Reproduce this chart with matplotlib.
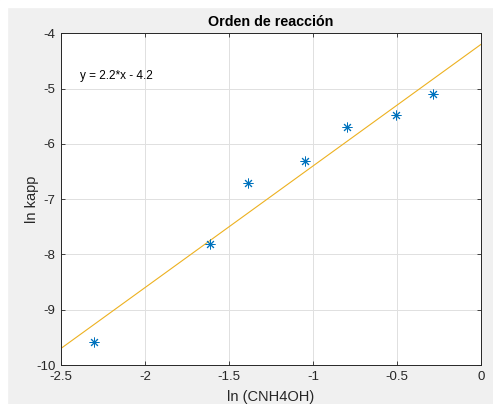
import numpy as np
import matplotlib.pyplot as plt
from matplotlib.patches import Rectangle

# datos experimentales
ln_c = [-2.303, -1.613, -1.386, -1.050, -0.800, -0.507, -0.285]
ln_kapp = [-9.58, -7.815, -6.71, -6.31, -5.69, -5.48, -5.10]
slope = 2.2
intercept = -4.2
fit_label = 'y = 2.2*x - 4.2'

plt.rcParams['font.family'] = ['Liberation Sans', 'DejaVu Sans']
plt.rcParams['axes.unicode_minus'] = False
txt_c = '#262626'

fig = plt.figure(figsize=(4.93, 4.04), dpi=100, facecolor='#f0f0f0')
# margen blanco de la captura
fig.patches.append(Rectangle((0, 0.982), 1, 0.018, transform=fig.transFigure,
                             color='white', zorder=-1))
fig.patches.append(Rectangle((0, 0), 0.014, 1, transform=fig.transFigure,
                             color='white', zorder=-1))

ax = fig.add_axes([0.1237, 0.0965, 0.852, 0.8211])
ax.set_facecolor('white')

x_fit = np.array([-2.5, 0.0])
ax.plot(x_fit, slope * x_fit + intercept, color='#EDB120', linewidth=0.8)
ax.plot(ln_c, ln_kapp, linestyle='none', marker=(8, 2, 0), markersize=7,
        markeredgewidth=0.7, color='#0072BD')

ax.text(-2.385, -4.77, fit_label, fontsize=8.5, color='black', va='center')

ax.set_xlim(-2.5, 0)
ax.set_ylim(-10, -4)
ax.set_xticks([-2.5, -2, -1.5, -1, -0.5, 0])
ax.set_xticklabels(['-2.5', '-2', '-1.5', '-1', '-0.5', '0'])
ax.set_yticks([-10, -9, -8, -7, -6, -5, -4])
ax.grid(True, color='#e0e0e0', linewidth=0.7)
ax.set_axisbelow(True)
ax.tick_params(direction='in', top=True, right=True, length=3, width=0.6,
               labelsize=9.5, colors=txt_c, pad=4)
for sp in ax.spines.values():
    sp.set_color(txt_c)
    sp.set_linewidth(0.7)

ax.set_title('Orden de reacción', fontsize=10.3, fontweight='bold', color='black', pad=5)
ax.set_ylabel('ln kapp', fontsize=10.5, color=txt_c, labelpad=-2)
ax.set_xlabel('ln (CNH4OH)', fontsize=10.5, color=txt_c, labelpad=5)

fig.savefig('out.png', dpi=100, facecolor=fig.get_facecolor())
